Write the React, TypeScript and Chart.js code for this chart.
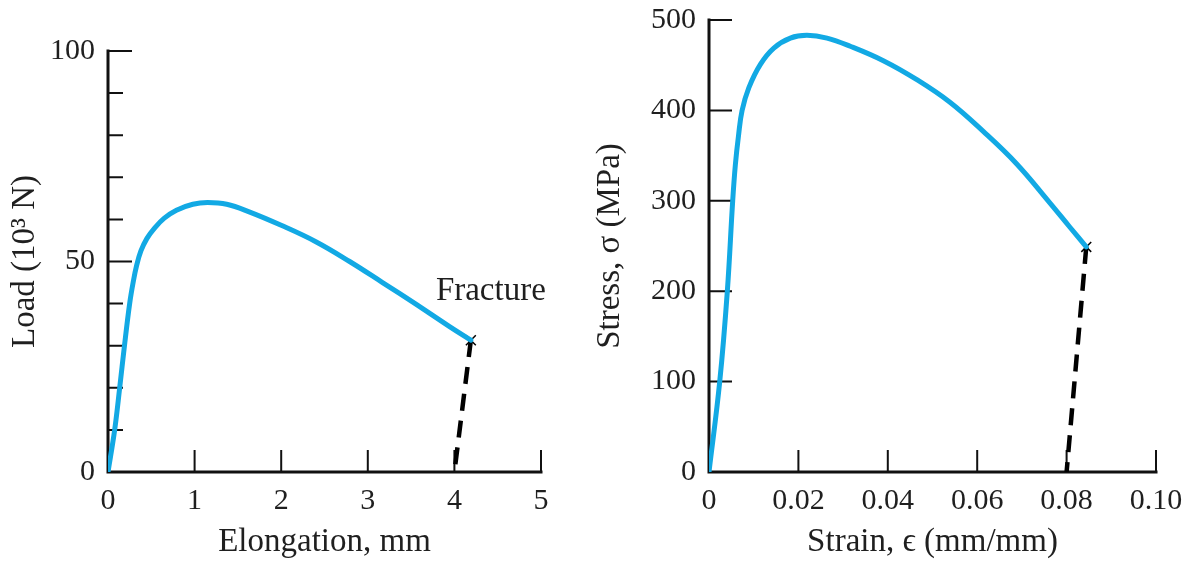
import React, { useEffect, useRef } from "react";
import { Chart, registerables } from "chart.js";

Chart.register(...registerables);

const FONT = '"Liberation Serif", "Times New Roman", serif';
const TEXT = "#1f1f1f";
const CURVE = "#12a9e4";

// ---- Left panel: load vs elongation ----
const leftElongation = [0, 0.077, 0.135, 0.19, 0.25, 0.29, 0.33, 0.38, 0.45, 0.54, 0.65, 0.79, 0.98, 1.15, 1.37, 1.63, 2.0, 2.4, 2.79, 3.17, 3.56, 3.94, 4.19];
const leftLoad = [0, 10, 20, 30, 40, 45, 49, 52.5, 55.5, 58, 60.3, 62.2, 63.6, 64, 63.6, 61.8, 58.6, 54.7, 50, 45, 39.8, 34.6, 31.3];
const leftFractureX = [4.19, 4.0];
const leftFractureY = [31.3, 0];
const leftXTicks = [0, 1, 2, 3, 4, 5];
const leftYMajor = [0, 50, 100];
const leftYMinor = [10, 20, 30, 40, 60, 70, 80, 90];

// ---- Right panel: stress vs strain ----
const rightStrain = [0, 0.0024, 0.0041, 0.0053, 0.0059, 0.0066, 0.0074, 0.0089, 0.0115, 0.0145, 0.0182, 0.0219, 0.0264, 0.0316, 0.039, 0.0465, 0.0539, 0.0613, 0.0688, 0.0762, 0.0807, 0.0844];
const rightStress = [0, 100, 200, 300, 340, 372, 400, 425, 451, 469, 480, 483, 480, 471, 455, 434, 409, 377, 341, 298, 271, 249];
const rightFractureX = [0.0844, 0.08];
const rightFractureY = [249, 0];
const rightXTicks = [0, 0.02, 0.04, 0.06, 0.08, 0.1];
const rightYMajor = [0, 100, 200, 300, 400, 500];

const pts = (xs: number[], ys: number[]) => xs.map((x, i) => ({ x, y: ys[i] }));

const axesPlugin = {
  id: "axesTicks",
  beforeDatasetsDraw(chart: any, _args: any, opts: any) {
    const { ctx, chartArea } = chart;
    const xs = chart.scales.x;
    const ys = chart.scales.y;
    const { left, right, top, bottom } = chartArea;
    ctx.save();
    ctx.strokeStyle = "#111";
    ctx.lineWidth = 2;
    ctx.beginPath();
    for (const v of opts.xTicks) {
      if (v === 0) continue;
      const px = xs.getPixelForValue(v);
      ctx.moveTo(px, bottom);
      ctx.lineTo(px, bottom - opts.xLen);
    }
    for (const v of opts.yMajor) {
      if (v === 0) continue;
      const py = ys.getPixelForValue(v);
      ctx.moveTo(left, py);
      ctx.lineTo(left + opts.yLen, py);
    }
    for (const v of opts.yMinor || []) {
      const py = ys.getPixelForValue(v);
      ctx.moveTo(left, py);
      ctx.lineTo(left + opts.yMinorLen, py);
    }
    ctx.stroke();
    ctx.lineWidth = 3;
    ctx.lineCap = "square";
    ctx.beginPath();
    ctx.moveTo(left, top);
    ctx.lineTo(left, bottom);
    ctx.lineTo(right, bottom);
    ctx.stroke();
    ctx.restore();
  },
  afterDatasetsDraw(chart: any, _args: any, opts: any) {
    if (!opts.label) return;
    const { ctx } = chart;
    const px = chart.scales.x.getPixelForValue(opts.labelAt.x);
    const py = chart.scales.y.getPixelForValue(opts.labelAt.y);
    ctx.save();
    ctx.fillStyle = TEXT;
    ctx.font = `33px ${FONT}`;
    ctx.textAlign = "center";
    ctx.textBaseline = "alphabetic";
    ctx.fillText(opts.label, px + opts.dx, py + opts.dy);
    ctx.restore();
  },
};

function makeConfig(p: any): any {
  const tickFont = { family: FONT, size: 30 };
  const titleFont = { family: FONT, size: 33 };
  return {
    type: "line",
    data: {
      datasets: [
        {
          data: pts(p.cx, p.cy),
          borderColor: CURVE,
          borderWidth: 5,
          pointRadius: 0,
          tension: 0.4,
          borderJoinStyle: "round",
          borderCapStyle: "round",
          fill: false,
        },
        {
          data: pts(p.fx, p.fy),
          borderColor: "#000",
          borderWidth: 4.5,
          borderDash: [17, 10],
          pointRadius: 0,
          fill: false,
        },
        {
          data: [{ x: p.fx[0], y: p.fy[0] }],
          showLine: false,
          pointStyle: "crossRot",
          pointRadius: 7,
          pointBorderWidth: 1.5,
          borderColor: "#000",
          pointBorderColor: "#000",
        },
      ],
    },
    options: {
      responsive: false,
      animation: false,
      events: [],
      layout: { padding: { left: 0, top: p.padTop, right: p.padRight, bottom: 0 } },
      plugins: {
        legend: { display: false },
        tooltip: { enabled: false },
        axesTicks: p.plugin,
      },
      scales: {
        x: {
          type: "linear",
          min: p.xMin,
          max: p.xMax,
          afterBuildTicks: (s: any) => {
            s.ticks = p.xTicks.map((v: number) => ({ value: v }));
          },
          afterFit: (s: any) => {
            s.height = p.xHeight;
            s.paddingLeft = 0;
            s.paddingRight = 0;
          },
          grid: { display: false, drawTicks: false },
          border: { display: false },
          ticks: {
            color: TEXT,
            font: tickFont,
            padding: 11,
            maxRotation: 0,
            autoSkip: false,
            callback: p.xFormat,
          },
          title: {
            display: true,
            text: p.xTitle,
            color: TEXT,
            font: titleFont,
            padding: { top: 0, bottom: 6 },
          },
        },
        y: {
          type: "linear",
          min: p.yMin,
          max: p.yMax,
          afterBuildTicks: (s: any) => {
            s.ticks = p.yTicks.map((v: number) => ({ value: v }));
          },
          afterFit: (s: any) => {
            s.width = p.yWidth;
            s.paddingTop = 0;
            s.paddingBottom = 0;
          },
          grid: { display: false, drawTicks: false },
          border: { display: false },
          ticks: { color: TEXT, font: tickFont, padding: 13, autoSkip: false },
          title: {
            display: true,
            text: p.yTitle,
            color: TEXT,
            font: titleFont,
            padding: { top: p.yTitlePad, bottom: 0 },
          },
        },
      },
    },
    plugins: [axesPlugin],
  };
}

function Panel({ config, left, width }: { config: any; left: number; width: number }) {
  const ref = useRef<HTMLCanvasElement | null>(null);
  useEffect(() => {
    const chart = new Chart(ref.current as HTMLCanvasElement, config);
    return () => chart.destroy();
  }, []);
  return (
    <canvas
      ref={ref}
      width={width}
      height={568}
      style={{ position: "absolute", left, top: 0, width, height: 568 }}
    />
  );
}

export default function App() {
  const leftCfg = makeConfig({
    cx: leftElongation,
    cy: leftLoad,
    fx: leftFractureX,
    fy: leftFractureY,
    xMin: 0,
    xMax: 5,
    yMin: 0,
    yMax: 100,
    xTicks: leftXTicks,
    yTicks: leftYMajor,
    xFormat: (v: number) => String(v),
    xTitle: "Elongation, mm",
    yTitle: "Load (10³ N)",
    padTop: 51,
    padRight: 39,
    yWidth: 108,
    xHeight: 96,
    yTitlePad: 6,
    plugin: {
      xTicks: leftXTicks,
      yMajor: leftYMajor,
      yMinor: leftYMinor,
      xLen: 22,
      yLen: 24,
      yMinorLen: 15,
      label: "Fracture",
      labelAt: { x: leftFractureX[0], y: leftFractureY[0] },
      dx: 20,
      dy: -40,
    },
  });
  const rightCfg = makeConfig({
    cx: rightStrain,
    cy: rightStress,
    fx: rightFractureX,
    fy: rightFractureY,
    xMin: 0,
    xMax: 0.1,
    yMin: 0,
    yMax: 500,
    xTicks: rightXTicks,
    yTicks: rightYMajor,
    xFormat: (v: number) => (v === 0 ? "0" : v.toFixed(2)),
    xTitle: "Strain, ϵ (mm/mm)",
    yTitle: "Stress, σ (MPa)",
    padTop: 20,
    padRight: 38,
    yWidth: 129,
    xHeight: 96,
    yTitlePad: 11,
    plugin: {
      xTicks: rightXTicks,
      yMajor: rightYMajor,
      yMinor: [],
      xLen: 22,
      yLen: 23,
      yMinorLen: 0,
      label: "",
    },
  });
  return (
    <div style={{ position: "fixed", left: 0, top: 0, width: 1194, height: 568, background: "#fff" }}>
      <Panel config={leftCfg} left={0} width={580} />
      <Panel config={rightCfg} left={580} width={614} />
    </div>
  );
}
